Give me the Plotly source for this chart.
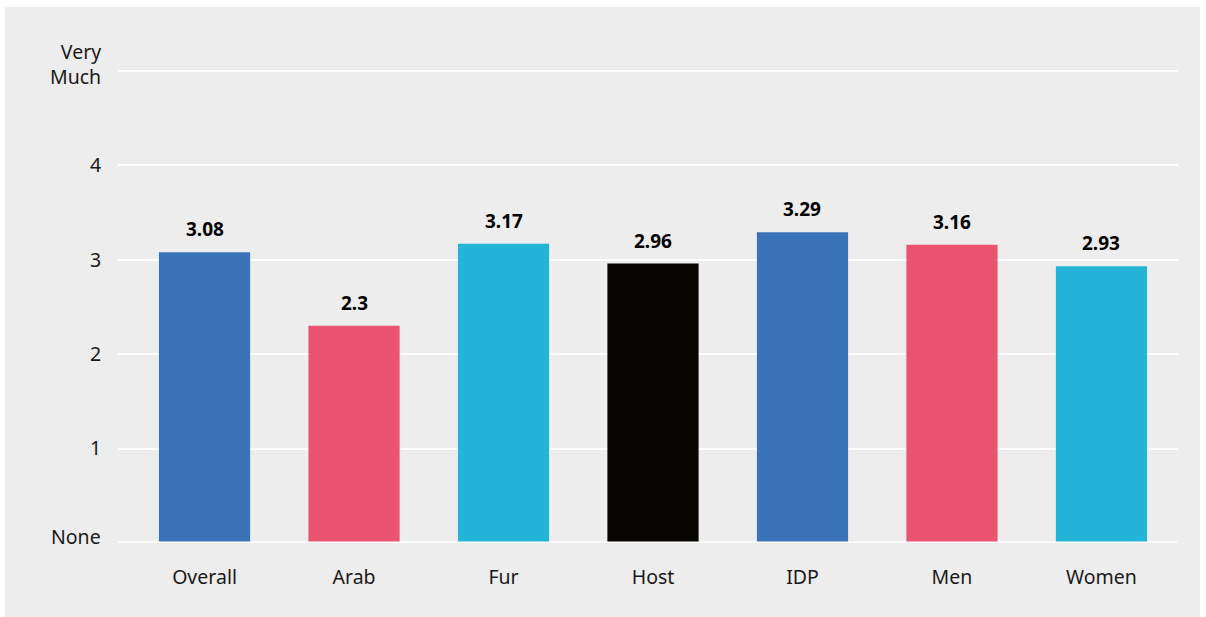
import plotly.graph_objects as go

categories = ["Overall", "Arab", "Fur", "Host", "IDP", "Men", "Women"]
values = [3.08, 2.3, 3.17, 2.96, 3.29, 3.16, 2.93]
value_labels = ["3.08", "2.3", "3.17", "2.96", "3.29", "3.16", "2.93"]
colors = ["#3A73B8", "#EB5372", "#23B4D7", "#080602", "#3A73B8", "#EB5372", "#23B4D7"]
y_tickvals = [0, 1, 2, 3, 4, 5]
y_ticktext = ["", "1", "2", "3", "4", ""]
end_labels = [(0, "None"), (5, "Very<br>Much")]

BG = "#EDEDED"
FONT = "Noto Sans"
TXT = "#1a1a1a"
FS = 19.5

fig = go.Figure()
fig.add_trace(go.Bar(
    x=list(range(len(categories))),
    y=values,
    marker=dict(color=colors, line=dict(width=0)),
    width=0.61,
    hoverinfo="skip",
))

for i, (v, t) in enumerate(zip(values, value_labels)):
    fig.add_annotation(x=i, y=v, text="<b>%s</b>" % t, showarrow=False,
                       yshift=23, font=dict(family=FONT, size=19, color="#000000"))

for v, t in end_labels:
    fig.add_annotation(x=0, xref="paper", y=v, yref="y", text=t, showarrow=False,
                       xanchor="right", xshift=-15, yanchor="middle", yshift=7,
                       align="right", font=dict(family=FONT, size=FS, color=TXT))

fig.update_layout(
    width=1206, height=617,
    margin=dict(l=118, r=28, t=69, b=74),
    paper_bgcolor="white",
    plot_bgcolor=BG,
    showlegend=False,
    font=dict(family=FONT, size=FS, color=TXT),
    xaxis=dict(
        range=[-0.579, 6.512],
        tickvals=list(range(len(categories))),
        ticktext=categories,
        showgrid=False, zeroline=False, showline=False,
        ticks="outside", ticklen=17, tickcolor="rgba(0,0,0,0)",
        tickfont=dict(family=FONT, size=FS, color=TXT),
    ),
    yaxis=dict(
        range=[0, 5.02],
        tickvals=y_tickvals,
        ticktext=y_ticktext,
        showgrid=True, gridcolor="white", gridwidth=2,
        zeroline=False, showline=False,
        ticks="outside", ticklen=12, tickcolor="rgba(0,0,0,0)",
        tickfont=dict(family=FONT, size=FS, color=TXT),
    ),
    shapes=[dict(type="rect", xref="paper", yref="paper", layer="below",
                 x0=-113/1060, x1=(1200-118)/1060, y0=-74/474, y1=(543-7)/474,
                 fillcolor=BG, line=dict(width=0)),
            dict(type="line", xref="paper", yref="y", layer="above",
                 x0=0, x1=1, y0=0, y1=0, line=dict(color="white", width=3))],
)

fig.write_html("out.html")
